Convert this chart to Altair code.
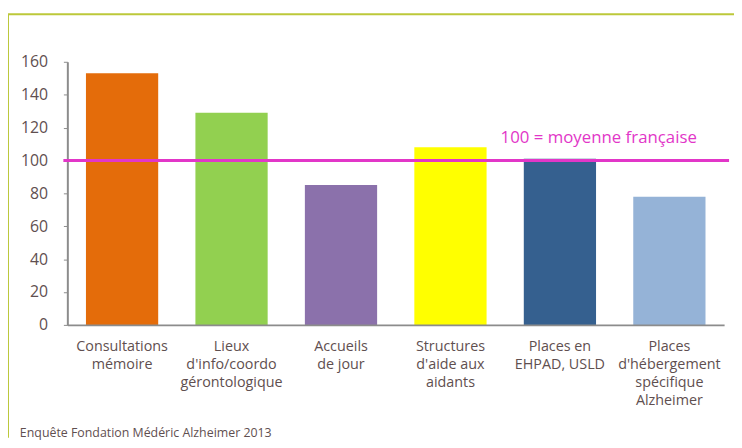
import altair as alt
import pandas as pd

categories = [
    "Consultations|mémoire",
    "Lieux|d'info/coordo|gérontologique",
    "Accueils|de jour",
    "Structures|d'aide aux|aidants",
    "Places en|EHPAD, USLD",
    "Places|d'hébergement|spécifique|Alzheimer",
]
values = [153, 129, 85, 108, 101, 78]
bar_colors = ["#e46c0a", "#92d050", "#8b71ab", "#ffff00", "#35608f", "#95b3d7"]
y_ticks = [0, 20, 40, 60, 80, 100, 120, 140, 160]
ref_value = [100]
ref_label = ["100 = moyenne française"]
footer = ["Enquête Fondation Médéric Alzheimer  2013"]

FONT = "Open Sans"
TXT = "#5f4f50"
AXIS = "#8c8c8c"
MAGENTA = "#e236c8"
FRAME = "#bcc83a"

df = pd.DataFrame({"cat": categories, "val": values, "color": bar_colors})

y_axis = alt.Axis(
    title=None,
    values=y_ticks,
    tickSize=4,
    tickColor=AXIS,
    domainColor=AXIS,
    domainWidth=2,
    labelFont=FONT,
    labelFontSize=16,
    labelColor=TXT,
    labelPadding=16,
    labelOverlap=False,
    labelFlush=False,
    grid=False,
)
y_scale = alt.Scale(domain=[0, 160], nice=False)

bars = alt.Chart(df).mark_bar().encode(
    x=alt.X(
        "cat:N",
        sort=None,
        scale=alt.Scale(paddingInner=0.34, paddingOuter=0.17),
        axis=alt.Axis(
            title=None,
            labelExpr="split(datum.label, '|')",
            labelAngle=0,
            ticks=False,
            domainColor=AXIS,
            domainWidth=2,
            labelFont=FONT,
            labelFontSize=14.5,
            labelColor=TXT,
            labelPadding=15,
            labelLineHeight=18,
            labelBaseline="top",
            labelOverlap=False,
            zindex=1,
        ),
    ),
    y=alt.Y("val:Q", scale=y_scale, axis=y_axis),
    color=alt.Color("color:N", scale=None),
)

ref_df = pd.DataFrame({"val": ref_value, "label": ref_label})
ref_rule = alt.Chart(ref_df).mark_rule(color=MAGENTA, strokeWidth=3).encode(
    y=alt.Y("val:Q", scale=y_scale, axis=y_axis), x=alt.value(-4), x2=alt.value(669)
)
ref_text = alt.Chart(ref_df).mark_text(
    color=MAGENTA, font=FONT, fontSize=17, align="left", baseline="middle"
).encode(text="label:N", x=alt.value(438), y=alt.value(77))

frame_df = pd.DataFrame({"a": [0]})
frame_left = alt.Chart(frame_df).mark_rule(color=FRAME, strokeWidth=2).encode(
    x=alt.value(-60), y=alt.value(-48), y2=alt.value(380)
)
frame_top = alt.Chart(frame_df).mark_rule(color=FRAME, strokeWidth=2).encode(
    x=alt.value(-61), x2=alt.value(680), y=alt.value(-48)
)

foot_df = pd.DataFrame({"t": footer})
foot_text = alt.Chart(foot_df).mark_text(
    color=TXT, font=FONT, fontSize=12.5, align="left", baseline="alphabetic"
).encode(text="t:N", x=alt.value(-48), y=alt.value(379))

chart = alt.layer(
    frame_left, frame_top, bars, ref_rule, ref_text, foot_text
).properties(
    width=664,
    height=266,
    padding={"left": 60, "top": 52, "right": 10, "bottom": 114},
    autosize=alt.AutoSizeParams(type="none"),
).configure_view(stroke=None)

chart.save("out.html", embed_options={"renderer": "svg", "actions": False})
